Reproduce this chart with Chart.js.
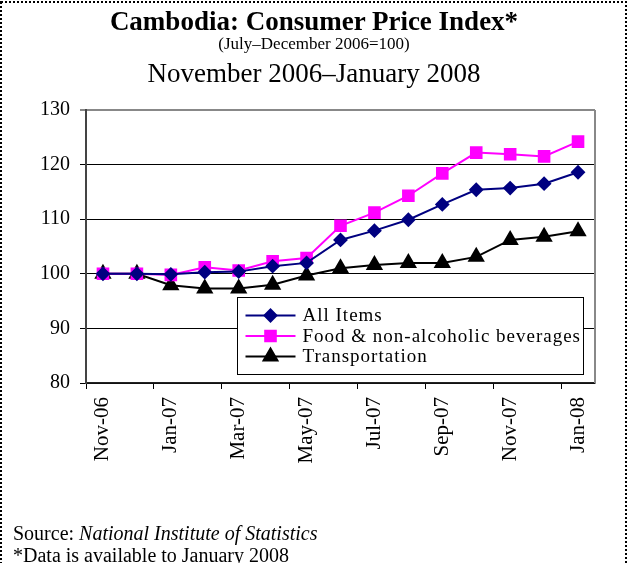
<!DOCTYPE html>
<html>
<head>
<meta charset="utf-8">
<script src="https://cdn.jsdelivr.net/npm/chart.js@4"></script>
<style>
  body { margin: 0; background: #fff; }
  #page { position: relative; width: 629px; height: 563px; overflow: hidden; font-family: 'Liberation Serif', 'Times New Roman', serif; color: #000; }
  #page canvas { position: absolute; left: 0; top: 0; }
  .txt { position: absolute; left: 0; width: 628px; text-align: center; white-space: nowrap; }
  #t1 { top: 8px; font-size: 27px; line-height: 27px; font-weight: bold; }
  #t2 { top: 35px; font-size: 17px; line-height: 17px; }
  #t3 { top: 60px; font-size: 27px; line-height: 27px; }
  .foot { position: absolute; left: 13px; font-size: 20px; line-height: 20px; white-space: nowrap; }
  #f1 { top: 523px; }
  #f2 { top: 545px; }
  #frame { position: absolute; left: 0; top: 0; }
</style>
</head>
<body>
<div id="page">
  <canvas id="myChart" width="629" height="563"></canvas>
  <div class="txt" id="t1">Cambodia: Consumer Price Index*</div>
  <div class="txt" id="t2">(July–December 2006=100)</div>
  <div class="txt" id="t3">November 2006–January 2008</div>
  <div class="foot" id="f1">Source: <i>National Institute of Statistics</i></div>
  <div class="foot" id="f2">*Data is available to January 2008</div>
  <svg id="frame" width="629" height="563">
    <rect x="1" y="2" width="625" height="600" fill="none" stroke="#000" stroke-width="2" stroke-dasharray="2 2"/>
  </svg>
</div>
<script>
// Datos del gráfico
const months = ['Nov-06', 'Dec-06', 'Jan-07', 'Feb-07', 'Mar-07', 'Apr-07', 'May-07', 'Jun-07',
                'Jul-07', 'Aug-07', 'Sep-07', 'Oct-07', 'Nov-07', 'Dec-07', 'Jan-08'];
const allItems = [100, 100, 99.9, 100.3, 100.4, 101.4, 102.0, 106.2, 107.9, 109.9, 112.7, 115.4, 115.7, 116.5, 118.6];
const food = [100, 100, 99.8, 101.2, 100.6, 102.3, 102.9, 108.8, 111.2, 114.3, 118.4, 122.2, 121.9, 121.5, 124.2];
const transport = [100, 100, 97.9, 97.3, 97.3, 98.0, 99.7, 101.0, 101.6, 102.0, 102.0, 103.1, 106.2, 106.8, 107.8];
const seriesNames = ['All Items', 'Food & non-alcoholic beverages', 'Transportation'];
const yMin = 80, yMax = 130, yStep = 10;

const serif = "'Liberation Serif', 'Times New Roman', serif";

// Leyenda dentro del área del gráfico + borde derecho gris
const boxLegend = {
    id: 'boxLegend',
    afterDraw(chart) {
        const ctx = chart.ctx;
        const area = chart.chartArea;
        ctx.save();
        // borde derecho del área
        ctx.strokeStyle = '#888';
        ctx.lineWidth = 2;
        ctx.beginPath();
        ctx.moveTo(area.right, area.top);
        ctx.lineTo(area.right, area.bottom);
        ctx.stroke();

        const bx = area.left + 151.5, by = area.top + 187.5, bw = 346, bh = 77;
        ctx.fillStyle = '#fff';
        ctx.fillRect(bx, by, bw, bh);
        ctx.strokeStyle = '#000';
        ctx.lineWidth = 1;
        ctx.strokeRect(bx, by, bw, bh);

        chart.data.datasets.forEach((ds, i) => {
            const y = by + 18 + i * 20.5;
            ctx.strokeStyle = ds.borderColor;
            ctx.lineWidth = 2;
            ctx.beginPath();
            ctx.moveTo(bx + 8, y);
            ctx.lineTo(bx + 58, y);
            ctx.stroke();
            ctx.fillStyle = ds.pointBackgroundColor;
            ctx.strokeStyle = ds.borderColor;
            Chart.helpers.drawPoint(ctx, {
                pointStyle: ds.pointStyle, radius: ds.pointRadius, rotation: 0, borderWidth: 1
            }, bx + 33, y);
            ctx.fillStyle = '#000';
            ctx.font = '19px ' + serif;
            ctx.letterSpacing = '1px';
            ctx.textBaseline = 'middle';
            ctx.textAlign = 'left';
            ctx.fillText(ds.label, bx + 65, y + 1);
            ctx.letterSpacing = '0px';
        });
        ctx.restore();
    }
};

const ctx = document.getElementById('myChart').getContext('2d');
const myChart = new Chart(ctx, {
    type: 'line',
    data: {
        labels: months,
        datasets: [{
            label: seriesNames[0],
            data: allItems,
            borderColor: '#000080',
            pointBackgroundColor: '#000080',
            borderWidth: 2,
            pointStyle: 'rectRot',
            pointRadius: 6,
            tension: 0
        }, {
            label: seriesNames[1],
            data: food,
            borderColor: '#ff00ff',
            pointBackgroundColor: '#ff00ff',
            borderWidth: 2,
            pointStyle: 'rect',
            pointRadius: 7.5,
            tension: 0
        }, {
            label: seriesNames[2],
            data: transport,
            borderColor: '#000000',
            pointBackgroundColor: '#000000',
            borderWidth: 2,
            pointStyle: 'triangle',
            pointRadius: 8,
            tension: 0
        }]
    },
    options: {
        responsive: false,
        animation: false,
        devicePixelRatio: 1,
        layout: { padding: { left: 0, right: 34, top: 110, bottom: 80 } },
        plugins: {
            legend: { display: false },
            tooltip: { enabled: false }
        },
        scales: {
            x: {
                offset: true,
                afterFit: (scale) => { scale.height = 100; },
                grid: {
                    drawOnChartArea: false,
                    offset: true,
                    tickLength: 6,
                    color: (c) => (c.index % 2 === 0 ? '#000' : 'rgba(0,0,0,0)')
                },
                border: { color: '#222', width: 1.5 },
                ticks: {
                    autoSkip: false,
                    maxRotation: 90,
                    minRotation: 90,
                    padding: 8,
                    color: '#000',
                    font: { family: serif, size: 21 },
                    callback: function (val, i) { return i % 2 === 0 ? this.getLabelForValue(val) : ''; }
                }
            },
            y: {
                min: yMin,
                max: yMax,
                afterFit: (scale) => { scale.width = 86; },
                grid: {
                    tickLength: 6,
                    color: (c) => (c.tick && c.tick.value === yMax ? '#888' : '#000'),
                    lineWidth: (c) => (c.tick && c.tick.value === yMax ? 2 : 1)
                },
                border: { color: '#444', width: 2 },
                ticks: {
                    stepSize: yStep,
                    padding: 10,
                    color: '#000',
                    font: { family: serif, size: 20 }
                }
            }
        }
    },
    plugins: [boxLegend]
});
</script>
</body>
</html>
